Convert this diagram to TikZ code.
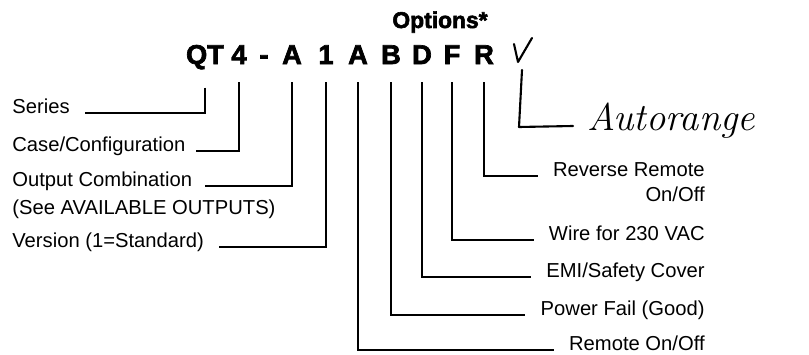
\documentclass[tikz,border=0pt]{standalone}
\usepackage{fontspec}
\newfontfamily\labelfont{Liberation Sans}
\newfontfamily\codefont[FakeBold=2.5]{Liberation Sans Bold}

\tikzset{
  code/.style={font=\codefont\fontsize{15.5}{17}\selectfont, inner sep=0pt, anchor=base},
  lbl/.style={font=\labelfont\fontsize{11.5}{13}\selectfont, inner sep=0pt},
  lead/.style={line width=1.1pt, shorten <=0.36cm},
  hand/.style={line width=1.2pt, line cap=round, line join=round}
}

\begin{document}
\begin{tikzpicture}[x=0.02cm, y=-0.02cm]
  \useasboundingbox (0,0) rectangle (809,355);
  % model code
  \node[code, font=\codefont\fontsize{13}{15}\selectfont] (opts) at (440,28) {Options*};
  \node[code] (qt) at (205,64) {QT};
  \node[code] (four) at (239,64) {4};
  \node[code] (dash) at (264,64) {-};
  \node[code] (outA) at (292,64) {A};
  \node[code] (ver) at (326,64) {1};
  \node[code] (remA) at (358,64) {A};
  \node[code] (pfB) at (391,64) {B};
  \node[code] (emiD) at (422,64) {D};
  \node[code] (wireF) at (452,64) {F};
  \node[code] (revR) at (484,64) {R};
  % left labels
  \node[lbl, anchor=base west] (series) at (12,113) {Series};
  \node[lbl, anchor=base west] (casecfg) at (12,151) {Case/Configuration};
  \node[lbl, anchor=base west] (outcomb) at (12,186) {Output Combination};
  \node[lbl, anchor=base west] (seeout) at (12,214) {(See AVAILABLE OUTPUTS)};
  \node[lbl, anchor=base west] (version) at (12,247) {Version (1=Standard)};
  % right labels
  \node[lbl, anchor=base east] (revremote) at (705,176) {Reverse Remote};
  \node[lbl, anchor=base east] (revonoff) at (705,201) {On/Off};
  \node[lbl, anchor=base east] (wire) at (705,240) {Wire for 230 VAC};
  \node[lbl, anchor=base east] (emi) at (705,277) {EMI/Safety Cover};
  \node[lbl, anchor=base east] (pfail) at (705,315) {Power Fail (Good)};
  \node[lbl, anchor=base east] (remote) at (705,350) {Remote On/Off};
  % leaders
  \draw[lead] (qt.south) |- ([xshift=0.3cm]series.base east);
  \draw[lead] (four.south) |- ([xshift=0.2cm]casecfg.base east);
  \draw[lead] (outA.south) |- ([xshift=0.26cm]outcomb.base east);
  \draw[lead] (ver.south) |- ([xshift=0.3cm]version.base east);
  \draw[lead] (revR.south) |- ([xshift=-0.3cm]revremote.base west);
  \draw[lead] (wireF.south) |- ([xshift=-0.3cm]wire.base west);
  \draw[lead] (emiD.south) |- ([xshift=-0.3cm]emi.base west);
  \draw[lead] (pfB.south) |- ([xshift=-0.3cm]pfail.base west);
  \draw[lead] (remA.south) |- ([xshift=-0.3cm]remote.base west);
  % handwritten note
  \draw[hand] (514,44) -- (518,62) -- (532,38);
  \coordinate (tick) at (522,70);
  \coordinate (tickfoot) at (519,127);
  \node[anchor=base west, inner sep=0pt, font=\itshape\fontsize{22}{24}\selectfont] (autorng) at (587,130) {Autorange};
  \draw[hand] (tick) -- (tickfoot) -- ([shift={(-14,-4)}]autorng.base west);
\end{tikzpicture}
\end{document}
